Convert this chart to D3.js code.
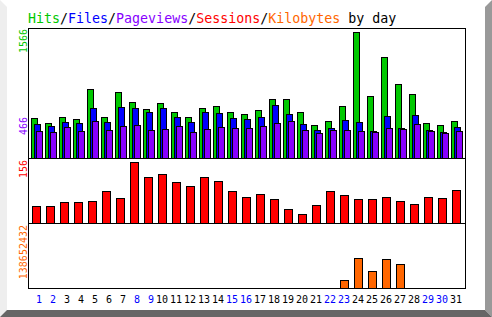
<!doctype html>
<html>
<head>
<meta charset="utf-8">
<title>Hits/Files/Pageviews/Sessions/Kilobytes by day</title>
<style>
  body { margin: 0; background: #fff; }
  svg { display: block; }
  text { font-family: "DejaVu Sans Mono", monospace; }
</style>
</head>
<body>
<div id="chart"></div>
<script src="https://d3js.org/d3.v7.min.js"></script>
<script>
// values
var days = d3.range(1, 32);
var weekendDays = [1, 2, 8, 9, 15, 16, 22, 23, 29, 30];
var hits   = [493, 431, 506, 481, 854, 506, 817, 692, 605, 680, 568, 506, 618, 643, 568, 543,
              593, 730, 730, 568, 406, 456, 643, 1566, 767, 1252, 916, 792, 431, 406, 456];
var files  = [419, 394, 444, 431, 618, 444, 630, 618, 568, 618, 506, 444, 568, 556, 493, 481,
              506, 655, 543, 419, 344, 369, 469, 444, 332, 518, 369, 531, 344, 319, 382];
var pages  = [336, 319, 382, 336, 466, 348, 394, 406, 344, 357, 394, 319, 357, 382, 369, 369,
              394, 431, 456, 344, 307, 344, 344, 332, 319, 369, 357, 419, 332, 307, 332];
var visits = [43, 43, 53, 53, 55, 81, 63, 156, 117, 125, 104, 94, 117, 107, 81, 66,
              74, 61, 35, 22, 45, 81, 71, 61, 61, 66, 55, 48, 66, 63, 84];
var kbytes = [0, 0, 0, 0, 0, 0, 0, 0, 0, 0, 0, 0, 0, 0, 0, 0,
              0, 0, 0, 0, 0, 0, 17500000, 67500000, 38000000, 65200000, 53900000, 0, 0, 0, 0];
var hitsMax = 1566, pagesMax = 466, visitsMax = 156, kbytesMax = 138652432;

var colors = { hits: "#00c800", files: "#0000ff", pages: "#8800ff", visits: "#ff0000", kbytes: "#ff6600" };

var W = 492, H = 317;
var svg = d3.select("#chart").append("svg").attr("width", W).attr("height", H);

// 3d border round the image
svg.append("polygon").attr("points", "0,0 7,7 7,310 0,317").attr("fill", "#eeeeee");
svg.append("polygon").attr("points", "492,0 492,317 485,310 485,7").attr("fill", "#999999");
svg.append("polygon").attr("points", "0,317 7,310 485,310 492,317").attr("fill", "#666666");

var x = d3.scaleBand().domain(days).range([28, 462]);
var yHits = d3.scaleLinear().domain([0, hitsMax]).range([158, 32]);
var yVisits = d3.scaleLinear().domain([0, visitsMax]).range([223, 162]);
var yKb = d3.scaleLinear().domain([0, kbytesMax]).range([288, 227]);

function bars(values, y, base, off, w, color) {
    svg.append("g").selectAll("rect")
        .data(days.filter(function(d) { return values[d - 1] > 0; }))
        .enter().append("rect")
        .attr("x", function(d) { return x(d) + off + 0.5; })
        .attr("y", function(d) { return Math.round(y(values[d - 1])) + 0.5; })
        .attr("width", w - 1)
        .attr("height", function(d) { return base - Math.round(y(values[d - 1])); })
        .attr("fill", color)
        .attr("stroke", "#000")
        .attr("stroke-width", 1);
}

bars(hits, yHits, 158, 3, 7, colors.hits);
bars(files, yHits, 158, 6, 7, colors.files);
bars(pages, yHits, 158, 8, 7, colors.pages);
bars(visits, yVisits, 223, 4, 9, colors.visits);
bars(kbytes, yKb, 288, 4, 9, colors.kbytes);

// frame
var frame = svg.append("g").attr("fill", "none").attr("stroke", "#000");
frame.append("rect").attr("x", 28.5).attr("y", 28.5).attr("width", 437).attr("height", 260);
frame.append("line").attr("x1", 28).attr("x2", 466).attr("y1", 158.5).attr("y2", 158.5);
frame.append("line").attr("x1", 28).attr("x2", 466).attr("y1", 223.5).attr("y2", 223.5);

// title
var title = svg.append("text").attr("x", 28).attr("y", 23).style("font-size", "13.3px");
[["Hits", colors.hits], ["/", "#000"], ["Files", colors.files], ["/", "#000"],
 ["Pageviews", colors.pages], ["/", "#000"], ["Sessions", colors.visits], ["/", "#000"],
 ["Kilobytes", colors.kbytes], ["\u00a0by day", "#000"]].forEach(function(p) {
    title.append("tspan").attr("fill", p[1]).text(p[0]);
});

// rotated max labels
function upLabel(txt, yEnd, color) {
    svg.append("text")
        .attr("transform", "translate(27," + yEnd + ") rotate(-90)")
        .attr("text-anchor", "end")
        .attr("fill", color)
        .style("font-size", "10px")
        .text(txt);
}
upLabel(hitsMax, yHits(hitsMax) - 3, colors.hits);
upLabel(pagesMax, yHits(pagesMax) - 3.5, colors.pages);
upLabel(visitsMax, yVisits(visitsMax) - 2, colors.visits);
upLabel(kbytesMax, 225, colors.kbytes);

// day labels
svg.append("g").selectAll("text")
    .data(days)
    .enter().append("text")
    .attr("x", function(d) { return x(d) + 14; })
    .attr("y", 303)
    .attr("text-anchor", "end")
    .attr("fill", function(d) { return weekendDays.indexOf(d) >= 0 ? "#0000ff" : "#000"; })
    .style("font-size", "10px")
    .text(function(d) { return d; });
</script>
</body>
</html>
